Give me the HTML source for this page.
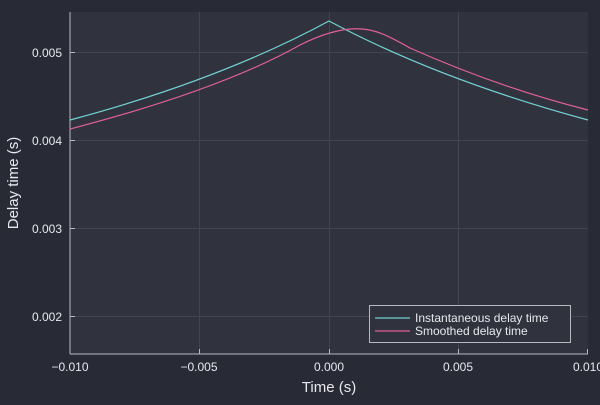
<!DOCTYPE html>
<html><head><style>
body{margin:0;background:#282a36;}
text{font-family:"Liberation Sans","DejaVu Sans",sans-serif;fill:#e8e8ee;}
</style></head><body>
<svg width="600" height="400" xmlns="http://www.w3.org/2000/svg">
<rect width="600" height="400" fill="#282a36"/>
<rect x="70" y="12" width="518" height="342" fill="#30323d"/>
<g stroke="#42444f" stroke-width="1">
<line x1="199.5" y1="12" x2="199.5" y2="354"/><line x1="329.5" y1="12" x2="329.5" y2="354"/><line x1="458.5" y1="12" x2="458.5" y2="354"/>
<line x1="70" y1="52.5" x2="588" y2="52.5"/><line x1="70" y1="140.5" x2="588" y2="140.5"/><line x1="70" y1="228.5" x2="588" y2="228.5"/><line x1="70" y1="316.5" x2="588" y2="316.5"/>
</g>
<g stroke="#b8b8c0" stroke-width="1">
<line x1="70" y1="12" x2="70" y2="354"/><line x1="70" y1="354" x2="588" y2="354"/>
<line x1="70" y1="52.5" x2="75" y2="52.5"/><line x1="70" y1="140.5" x2="75" y2="140.5"/><line x1="70" y1="228.5" x2="75" y2="228.5"/><line x1="70" y1="316.5" x2="75" y2="316.5"/>
<line x1="199.5" y1="354" x2="199.5" y2="349"/><line x1="329.5" y1="354" x2="329.5" y2="349"/><line x1="458.5" y1="354" x2="458.5" y2="349"/><line x1="587.5" y1="354" x2="587.5" y2="349"/>
</g>
<g font-size="12" text-anchor="end">
<text x="62" y="57">0.005</text><text x="62" y="145">0.004</text><text x="62" y="233">0.003</text><text x="62" y="321">0.002</text>
</g>
<g font-size="12" text-anchor="middle">
<text x="70" y="371">−0.010</text><text x="199" y="371">−0.005</text><text x="329" y="371">0.000</text><text x="458" y="371">0.005</text><text x="588" y="371">0.010</text>
</g>
<text x="329" y="392" font-size="15" text-anchor="middle">Time (s)</text>
<text transform="translate(18,183) rotate(-90)" font-size="15" text-anchor="middle">Delay time (s)</text>
<g fill="none" stroke-width="1.2">
<path d="M70,120 Q220,80 329,21 Q440,80 588,120" stroke="#72d3d3"/>
<path d="M70,129 Q220,90 300,45 C330,30 350,28 362,29 C378,30 392,38 410,48 Q500,88 588,110" stroke="#e2609c"/>
</g>
<rect x="369.5" y="305.5" width="201" height="37" fill="#30323d" stroke="#b8b8c0"/>
<line x1="375" y1="318" x2="410" y2="318" stroke="#72d3d3" stroke-width="1.2"/>
<line x1="375" y1="331" x2="410" y2="331" stroke="#e2609c" stroke-width="1.2"/>
<text x="415" y="322" font-size="12">Instantaneous delay time</text>
<text x="415" y="335" font-size="12">Smoothed delay time</text>
</svg>
</body></html>
